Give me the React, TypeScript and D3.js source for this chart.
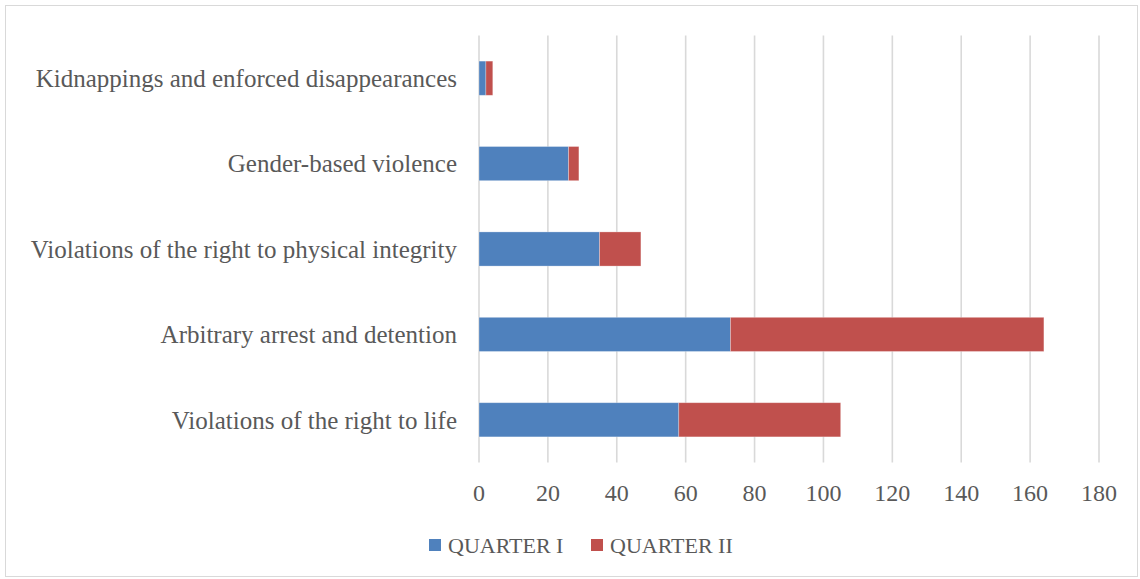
import React, { useEffect, useRef } from "react";
import * as d3 from "d3";

const categories = [
  "Kidnappings and enforced disappearances",
  "Gender-based violence",
  "Violations of the right to physical integrity",
  "Arbitrary arrest and detention",
  "Violations of the right to life",
];
const quarterOne = [2, 26, 35, 73, 58];
const quarterTwo = [2, 3, 12, 91, 47];
const seriesNames = ["QUARTER I", "QUARTER II"];
const xTicks = [0, 20, 40, 60, 80, 100, 120, 140, 160, 180];

const colors = ["#4F81BD", "#C0504D"];

export default function App() {
  const svgRef = useRef<SVGSVGElement>(null);

  useEffect(() => {
    const width = 1140;
    const height = 579;
    const margin = { top: 35.5, right: 41, bottom: 116.5, left: 479 };
    const font = "'Liberation Serif', 'DejaVu Serif', serif";
    const textColor = "#595959";

    const svg = d3.select(svgRef.current)
      .attr("width", width)
      .attr("height", height);
    svg.selectAll("*").remove();

    svg.append("rect")
      .attr("x", 5.5)
      .attr("y", 5.5)
      .attr("width", width - 8)
      .attr("height", height - 8)
      .attr("fill", "white")
      .attr("stroke", "#d9d9d9")
      .attr("stroke-width", 1);

    const x = d3.scaleLinear()
      .domain([0, 180])
      .range([margin.left, width - margin.right]);

    const y = d3.scaleBand()
      .domain(categories)
      .range([margin.top, height - margin.bottom])
      .paddingInner(0.6)
      .paddingOuter(0.3);

    // gridlines
    svg.append("g")
      .selectAll("line")
      .data(xTicks)
      .enter()
      .append("line")
      .attr("x1", d => x(d))
      .attr("x2", d => x(d))
      .attr("y1", margin.top)
      .attr("y2", height - margin.bottom)
      .attr("stroke", "#d9d9d9")
      .attr("stroke-width", 1.6);

    const rows = categories.map((c, i) => ({ cat: c, q1: quarterOne[i], q2: quarterTwo[i] }));
    const stacked = d3.stack<any>().keys(["q1", "q2"])(rows);

    svg.append("g")
      .selectAll("g")
      .data(stacked)
      .enter()
      .append("g")
      .attr("fill", (d, i) => colors[i])
      .selectAll("rect")
      .data(d => d)
      .enter()
      .append("rect")
      .attr("x", d => x(d[0]))
      .attr("y", d => y(d.data.cat)!)
      .attr("width", d => x(d[1]) - x(d[0]))
      .attr("height", y.bandwidth())
      .attr("stroke", "rgba(255,255,255,0.35)")
      .attr("stroke-width", 0.8);

    // category labels
    svg.append("g")
      .selectAll("text")
      .data(categories)
      .enter()
      .append("text")
      .attr("x", margin.left - 22)
      .attr("y", d => y(d)! + y.bandwidth() / 2)
      .attr("dy", "0.35em")
      .attr("text-anchor", "end")
      .style("font-family", font)
      .style("font-size", "25px")
      .attr("fill", textColor)
      .text(d => d);

    // x tick labels
    svg.append("g")
      .selectAll("text")
      .data(xTicks)
      .enter()
      .append("text")
      .attr("x", d => x(d))
      .attr("y", 493)
      .attr("dy", "0.35em")
      .attr("text-anchor", "middle")
      .style("font-family", font)
      .style("font-size", "24px")
      .attr("fill", textColor)
      .text(d => d);

    // legend
    const legendX = [429, 591];
    const legend = svg.append("g");
    seriesNames.forEach((name, i) => {
      legend.append("rect")
        .attr("x", legendX[i])
        .attr("y", 539)
        .attr("width", 12)
        .attr("height", 12)
        .attr("fill", colors[i]);
      legend.append("text")
        .attr("x", legendX[i] + 19)
        .attr("y", 545)
        .attr("dy", "0.35em")
        .style("font-family", font)
        .style("font-size", "22px")
        .attr("fill", textColor)
        .text(name);
    });
  }, []);

  return (
    <svg ref={svgRef} style={{ position: "absolute", left: 0, top: 0 }} />
  );
}
